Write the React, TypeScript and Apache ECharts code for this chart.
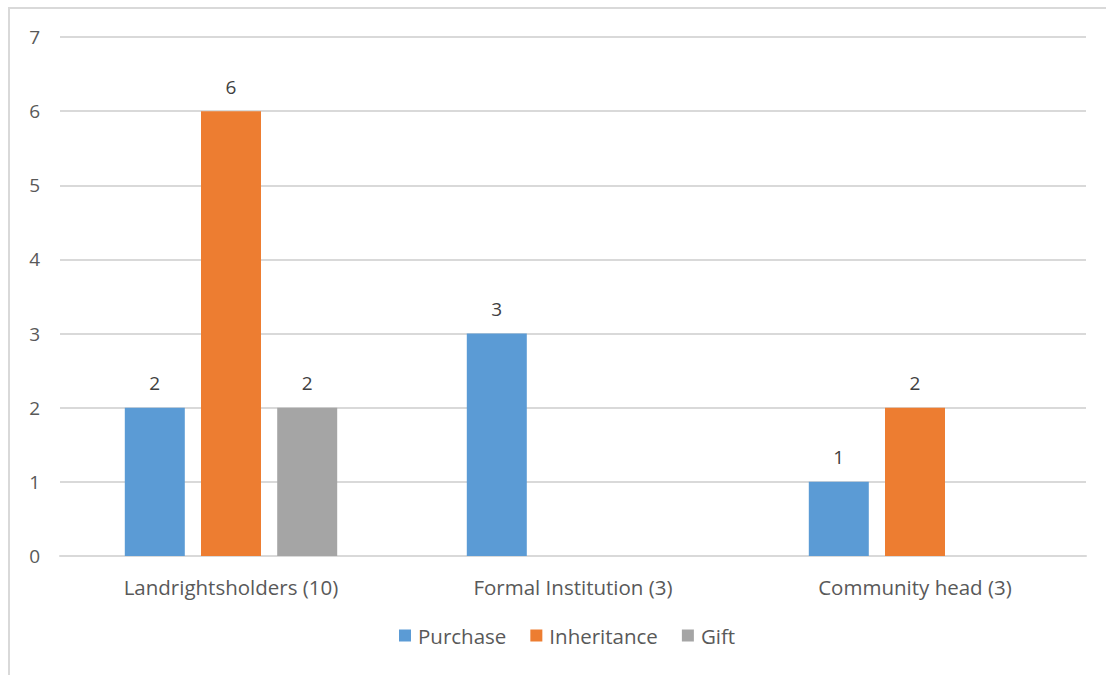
import React, { useEffect, useRef } from "react";
import * as echarts from "echarts";

const categories = ["Landrightsholders (10)", "Formal Institution (3)", "Community head (3)"];
const purchase = [2, 3, 1];
const inheritance = [6, null, 2];
const gift = [2, null, null];
const seriesNames = ["Purchase", "Inheritance", "Gift"];
const colors = ["#5B9BD5", "#ED7D31", "#A5A5A5"];

const FONT = "'Open Sans', sans-serif";

export default function App() {
  const ref = useRef<HTMLDivElement>(null);
  useEffect(() => {
    const chart = echarts.init(ref.current!, null, { renderer: "svg" });
    const mk = (name: string, data: (number | null)[], color: string) => ({
      name,
      type: "bar",
      data,
      barWidth: 60,
      barGap: "27%",
      itemStyle: { color },
      label: {
        show: true,
        position: "top",
        distance: 15,
        color: "#404040",
        fontSize: 19,
        fontFamily: FONT,
      },
    });
    chart.setOption({
      animation: false,
      backgroundColor: "#ffffff",
      color: colors,
      graphic: [
        {
          type: "rect",
          shape: { x: 9, y: 8, width: 1300, height: 900 },
          style: { fill: "none", stroke: "#d9d9d9", lineWidth: 2 },
          silent: true,
        },
      ],
      grid: { left: 60, right: 20, top: 37, bottom: 119, containLabel: false },
      legend: {
        bottom: 29,
        left: 399,
        padding: 0,
        icon: "rect",
        itemWidth: 12,
        itemHeight: 12,
        itemGap: 24,
        itemStyle: { borderWidth: 0 },
        textStyle: { color: "#595959", fontSize: 20.5, fontFamily: FONT, padding: [0, 0, 0, 2] },
        data: seriesNames,
      },
      xAxis: {
        type: "category",
        data: categories,
        axisLine: { show: true, lineStyle: { color: "#d9d9d9", width: 2 } },
        axisTick: { show: false },
        axisLabel: { color: "#595959", fontSize: 20.5, fontFamily: FONT, margin: 20 },
      },
      yAxis: {
        type: "value",
        min: 0,
        max: 7,
        interval: 1,
        axisLine: { show: false },
        axisTick: { show: false },
        splitLine: { lineStyle: { color: "#d9d9d9", width: 2 } },
        axisLabel: { color: "#595959", fontSize: 19, fontFamily: FONT, margin: 20 },
      },
      series: [
        mk(seriesNames[0], purchase, colors[0]),
        mk(seriesNames[1], inheritance, colors[1]),
        mk(seriesNames[2], gift, colors[2]),
      ],
    });
    return () => chart.dispose();
  }, []);
  return (
    <div
      ref={ref}
      style={{ position: "absolute", left: 0, top: 0, width: 1106, height: 675 }}
    />
  );
}
